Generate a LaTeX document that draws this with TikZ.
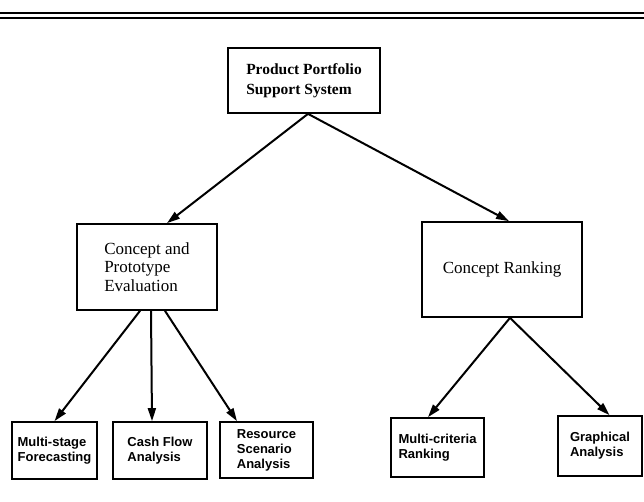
\documentclass[tikz,border=0pt]{standalone}
\usepackage{fontspec}
\setmainfont{Liberation Serif}
\setsansfont{Liberation Sans}
\usepackage{tikz}
\usetikzlibrary{arrows.meta}

\begin{document}
\begin{tikzpicture}[x=1pt,y=1pt,
  box/.style={draw,line width=1.7pt,inner sep=0pt,align=left},
  topbox/.style={box,font=\bfseries\fontsize{15.5}{20}\selectfont},
  midbox/.style={box,font=\fontsize{17}{18.5}\selectfont},
  leafbox/.style={box,font=\sffamily\bfseries\fontsize{13}{15}\selectfont},
  arr/.style={line width=2pt,-{Triangle[length=13pt,width=8pt]}}]
\useasboundingbox (0,0) rectangle (644,501);
% double rule at the top
\draw[line width=2pt] (0,487.5) -- (644,487.5);
\draw[line width=2pt] (0,483.2) -- (644,483.2);
% boxes
\node[topbox,minimum width=152pt,minimum height=65pt] (pps) at (304,420.5) {Product Portfolio\\Support System};
\node[midbox,minimum width=140pt,minimum height=86pt] (cpe) at (147,234) {Concept and\\Prototype\\Evaluation};
\node[midbox,minimum width=160pt,minimum height=95pt] (cr) at (502,231.5) {Concept Ranking};
\node[leafbox,minimum width=85pt,minimum height=57pt] (msf) at (54.5,50.5) {Multi-stage\\Forecasting};
\node[leafbox,minimum width=94pt,minimum height=57pt] (cfa) at (160,50.5) {Cash Flow\\Analysis};
\node[leafbox,minimum width=93pt,minimum height=56pt] (rsa) at (266.5,51) {Resource\\Scenario\\Analysis};
\node[leafbox,minimum width=93pt,minimum height=59pt] (mcr) at (437.5,53.5) {Multi-criteria\\Ranking};
\node[leafbox,minimum width=84pt,minimum height=60pt] (gra) at (600,55) {Graphical\\Analysis};
% arrows
\draw[arr] ([xshift=4pt]pps.south) -- ([xshift=20pt]cpe.north);
\draw[arr] ([xshift=4pt]pps.south) -- ([xshift=7pt]cr.north);
\draw[arr] ([xshift=-7pt]cpe.south) -- (msf.north);
\draw[arr] ([xshift=4pt]cpe.south) -- ([xshift=-8pt]cfa.north);
\draw[arr] ([xshift=18pt]cpe.south) -- ([xshift=-29.5pt]rsa.north);
\draw[arr] ([xshift=8pt]cr.south) -- ([xshift=-9.5pt]mcr.north);
\draw[arr] ([xshift=8pt]cr.south) -- ([xshift=9.5pt]gra.north);
\end{tikzpicture}
\end{document}
